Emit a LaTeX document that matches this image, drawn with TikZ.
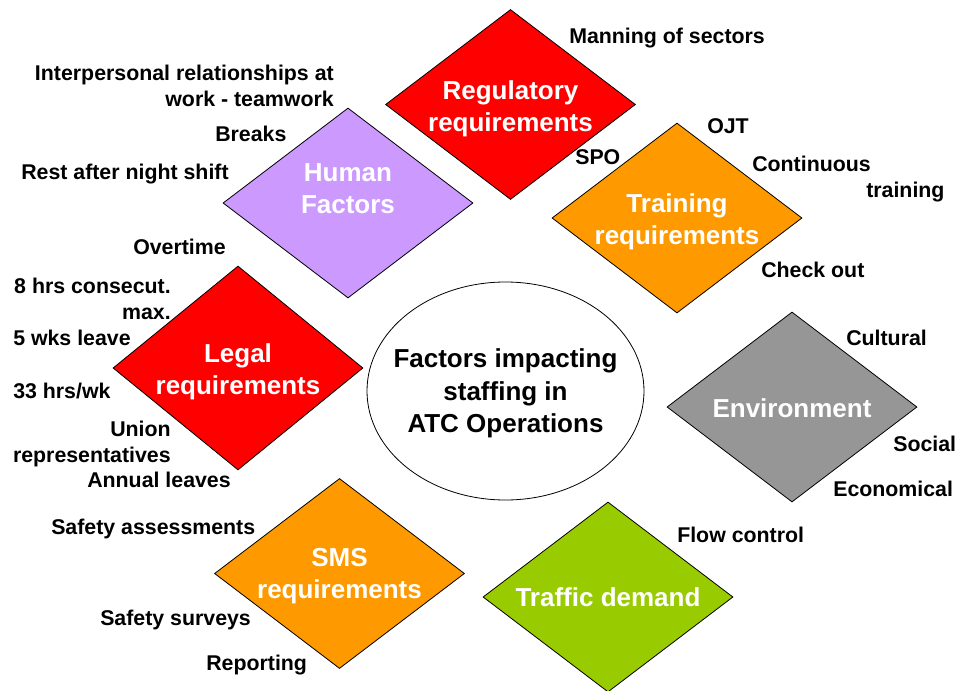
\documentclass[tikz,border=0pt]{standalone}
\usepackage{fontspec}
\setmainfont{Liberation Sans}
\usetikzlibrary{shapes.geometric}
\definecolor{cred}{HTML}{FF0000}
\definecolor{cpurple}{HTML}{CC99FF}
\definecolor{corange}{HTML}{FF9900}
\definecolor{cgray}{HTML}{969696}
\definecolor{cgreen}{HTML}{99CC00}
\begin{document}
\begin{tikzpicture}[x=0.75pt,y=-0.75pt,
  dia/.style={shape=diamond, draw=black, line width=0.6pt, inner sep=0pt,
    minimum width=187.5pt, minimum height=142.5pt},
  dlab/.style={font=\bfseries\fontsize{19.5}{24}\selectfont, text=white, align=center, inner sep=0pt},
  lab/.style={font=\bfseries\fontsize{16}{19.5}\selectfont, text=black, inner sep=0pt},
  centre/.style={shape=ellipse, draw=black, line width=0.6pt, fill=white, inner sep=0pt,
    minimum width=207.75pt, minimum height=163.5pt},
  clab/.style={font=\bfseries\fontsize{19.5}{24.4}\selectfont, text=black, align=center, inner sep=0pt}
]
\useasboundingbox (0,0) rectangle (958,690);

% diamonds
\node[dia, fill=cred] (reg) at (510.5,104.5) {};
\node[dia, fill=cpurple] (hf) at (348,203) {};
\node[dia, fill=corange] (tr) at (677,218) {};
\node[dia, fill=cred, minimum height=153pt] (legal) at (238,368) {};
\node[dia, fill=cgray] (env) at (792,407) {};
\node[dia, fill=corange] (sms) at (339.5,573.5) {};
\node[dia, fill=cgreen] (traffic) at (608,597) {};

% central ellipse
\node[centre] (core) at (505.5,391) {};
\node[clab] (coreT) at (505.5,393.5) {Factors impacting\\staffing in\\ATC Operations};

% diamond labels
\node[dlab] (regT) at (510.5,109) {Regulatory\\requirements};
\node[dlab] (hfT) at ([yshift=10.5pt]hf.center) {Human\\Factors};
\node[dlab] (trT) at (677,221.5) {Training\\requirements};
\node[dlab] (legalT) at (238,371.5) {Legal\\requirements};
\node[dlab] (envT) at (792,408) {Environment};
\node[dlab] (smsT) at (339.5,576.5) {SMS\\requirements};
\node[dlab] (trafficT) at (608,597) {Traffic demand};

% side labels
\node[lab, anchor=west] (man) at (569,38) {Manning of sectors};
\node[lab, anchor=east, align=right] (inter) at (334,85.5) {Interpersonal relationships at\\work - teamwork};
\node[lab, anchor=west] (breaks) at (215,134) {Breaks};
\node[lab, anchor=west] (rest) at (21,174) {Rest after night shift};
\node[lab, anchor=west] (over) at (133,247) {Overtime};
\node[lab, anchor=east, align=right] (eight) at (171,298.5) {8 hrs consecut.\\max.};
\node[lab, anchor=west] (five) at (13,338) {5 wks leave};
\node[lab, anchor=west] (thirty) at (13,391) {33 hrs/wk};
\node[lab, anchor=east, align=right] (union) at (171,444) {Union\\representatives};
\node[lab, anchor=west] (annual) at (87,480) {Annual leaves};
\node[lab, anchor=west] (safass) at (51,529) {Safety assessments};
\node[lab, anchor=west] (safsur) at (100,620) {Safety surveys};
\node[lab, anchor=west] (report) at (206,665) {Reporting};
\node[lab, anchor=west] (spo) at (575,157) {SPO};
\node[lab, anchor=west] (ojt) at (707,126) {OJT};
\node[lab, anchor=west] (cont) at (752,164) {Continuous};
\node[lab, anchor=west] (contb) at (866,192) {training};
\node[lab, anchor=west] (check) at (761,270) {Check out};
\node[lab, anchor=west] (cult) at (846,338) {Cultural};
\node[lab, anchor=west] (social) at (893,444) {Social};
\node[lab, anchor=west] (econ) at (833,489) {Economical};
\node[lab, anchor=west] (flow) at (677,535) {Flow control};
\end{tikzpicture}
\end{document}
